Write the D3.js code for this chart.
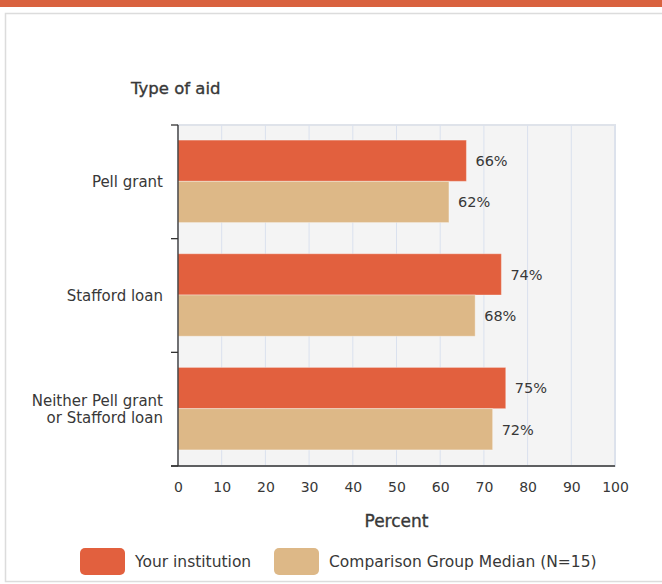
<!DOCTYPE html>
<html>
<head>
<meta charset="utf-8">
<script src="https://cdn.jsdelivr.net/npm/d3@7"></script>
<style>
  html, body { margin: 0; padding: 0; background: #fff; }
  svg { display: block; }
  text { font-family: "DejaVu Sans", Verdana, sans-serif; fill: #383838; }
</style>
</head>
<body>
<svg id="chart" width="662" height="584"></svg>
<script>
const categories = ["Pell grant", "Stafford loan", "Neither Pell grant\nor Stafford loan"];
const seriesNames = ["Your institution", "Comparison Group Median (N=15)"];
const yourInstitution = [66, 74, 75];
const comparisonMedian = [62, 68, 72];
const xTicks = [0, 10, 20, 30, 40, 50, 60, 70, 80, 90, 100];
const colors = ["#e2603e", "#ddb887"];

(function () {
const svg = d3.select("#chart");

// header bar and card
svg.append("rect").attr("x", 0).attr("y", 0).attr("width", 662).attr("height", 7).attr("fill", "#d9623f");
svg.append("rect").attr("x", 5.5).attr("y", 13.5).attr("width", 670).attr("height", 568)
  .attr("fill", "#fff").attr("stroke", "#dcdcdc").attr("stroke-width", 1.5);

const pLeft = 178, pRight = 615, pTop = 125, pBottom = 466;
const x = d3.scaleLinear().domain([0, 100]).range([pLeft, pRight]);
const y = d3.scaleBand().domain(categories).range([pTop, pBottom]).padding(0);
const bw = y.bandwidth();
const inner = d3.scaleBand().domain([0, 1]).range([bw * 15 / 113, bw * 97 / 113]).padding(0);

// plot background
svg.append("rect").attr("x", pLeft).attr("y", pTop).attr("width", pRight - pLeft).attr("height", pBottom - pTop)
  .attr("fill", "#f4f4f4").attr("stroke", "#dfe3ea").attr("stroke-width", 2);

// gridlines
svg.append("g").selectAll("line").data(xTicks.slice(1)).join("line")
  .attr("x1", d => x(d)).attr("x2", d => x(d))
  .attr("y1", pTop).attr("y2", pBottom)
  .attr("stroke", "#dae1ee").attr("stroke-width", 1);

// bars
const series = [yourInstitution, comparisonMedian];
series.forEach((vals, si) => {
  const g = svg.append("g");
  g.selectAll("rect").data(categories).join("rect")
    .attr("x", x(0))
    .attr("y", c => y(c) + inner(si))
    .attr("width", (c, i) => x(vals[i]) - x(0))
    .attr("height", inner.bandwidth())
    .attr("fill", colors[si])
    .attr("stroke", "rgba(255,255,255,0.35)").attr("stroke-width", 1);
  g.selectAll("text").data(categories).join("text")
    .attr("x", (c, i) => x(vals[i]) + 9)
    .attr("y", c => y(c) + inner(si) + inner.bandwidth() / 2)
    .attr("dy", "0.36em")
    .attr("font-size", "14.5px")
    .text((c, i) => vals[i] + "%");
});

// left axis
svg.append("line").attr("x1", pLeft).attr("x2", pLeft).attr("y1", pTop).attr("y2", pBottom)
  .attr("stroke", "#333").attr("stroke-width", 1.3);
const boundaries = categories.map(c => y(c)).concat([y.range()[1]]);
svg.append("g").selectAll("line").data(boundaries).join("line")
  .attr("x1", pLeft - 7).attr("x2", pLeft).attr("y1", d => d).attr("y2", d => d)
  .attr("stroke", "#333").attr("stroke-width", 1.3);

// category labels
const catG = svg.append("g");
categories.forEach(c => {
  const lines = c.split("\n");
  const cy = y(c) + bw / 2;
  const t = catG.append("text").attr("text-anchor", "end").attr("font-size", "15px");
  lines.forEach((ln, k) => {
    t.append("tspan").attr("x", 163)
      .attr("y", cy + (k - (lines.length - 1) / 2) * 16.5)
      .attr("dy", "0.36em").text(ln);
  });
});

// bottom axis
const xAxis = d3.axisBottom(x).tickValues(xTicks).tickSize(0).tickPadding(16).tickFormat(d3.format("d"));
const ax = svg.append("g").attr("transform", `translate(0,${pBottom})`).call(xAxis);
ax.select(".domain").remove();
ax.selectAll("text").attr("font-size", "14px").attr("fill", "#383838")
  .attr("font-family", "'DejaVu Sans', Verdana, sans-serif");
svg.append("line").attr("x1", pLeft - 7).attr("x2", pRight).attr("y1", pBottom).attr("y2", pBottom)
  .attr("stroke", "#333").attr("stroke-width", 1.3);

// titles
svg.append("text").attr("x", 131).attr("y", 88).attr("dy", "0.36em")
  .attr("font-size", "16.5px").attr("stroke", "#383838").attr("stroke-width", 0.35)
  .text("Type of aid");
svg.append("text").attr("x", (pLeft + pRight) / 2).attr("y", 521).attr("dy", "0.36em")
  .attr("text-anchor", "middle").attr("font-size", "17px")
  .attr("stroke", "#383838").attr("stroke-width", 0.35).text("Percent");

// legend
const legendX = [80, 274];
const leg = svg.append("g");
seriesNames.forEach((name, i) => {
  leg.append("rect").attr("x", legendX[i]).attr("y", 548).attr("width", 45).attr("height", 27)
    .attr("rx", 5).attr("fill", colors[i]);
  leg.append("text").attr("x", legendX[i] + 55).attr("y", 561).attr("dy", "0.36em")
    .attr("font-size", "15.5px").text(name);
});
})();
</script>
</body>
</html>
